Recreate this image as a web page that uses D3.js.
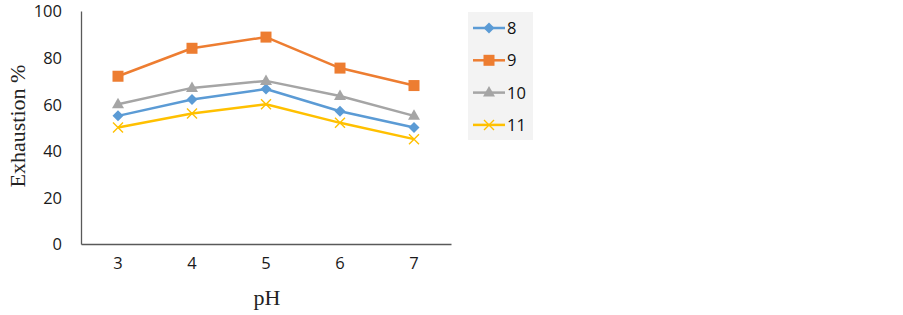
<!DOCTYPE html>
<html lang="en">
<head>
    <meta charset="UTF-8">
    <title>Exhaustion vs pH</title>
    <script src="https://d3js.org/d3.v7.min.js"></script>
    <style>
        body { margin: 0; background: #fff; }
        svg { display: block; }
    </style>
</head>
<body>
<div id="chart"></div>
<script>
    // data
    const phValues = ["3", "4", "5", "6", "7"];
    const seriesNames = ["8", "9", "10", "11"];
    const s8 = [55, 62, 66.5, 57, 50];
    const s9 = [72, 84, 88.8, 75.5, 68];
    const s10 = [60, 67, 70, 63.5, 55];
    const s11 = [50, 56, 60, 52, 45];
    const yTicks = [0, 20, 40, 60, 80, 100];

    const allSeries = [s8, s9, s10, s11];
    const colors = ["#5B9BD5", "#ED7D31", "#A5A5A5", "#FFC000"];
    const markers = ["diamond", "square", "triangle", "cross"];
    const sansFont = "'Open Sans', 'Liberation Sans', sans-serif";
    const serifFont = "'Liberation Serif', 'DejaVu Serif', serif";

    const W = 903, H = 315;
    const svg = d3.select("#chart").append("svg")
        .attr("width", W)
        .attr("height", H);

    const x = d3.scaleBand().domain(phValues).range([81, 451]);
    const y = d3.scaleLinear().domain([0, 100]).range([244, 11]);

    // y axis
    const gy = svg.append("g")
        .attr("transform", "translate(81,0)")
        .call(d3.axisLeft(y).tickValues(yTicks).tickSize(0).tickPadding(19));
    gy.select(".domain").attr("stroke", "#595959").attr("stroke-width", 1.3);
    gy.selectAll(".tick text")
        .attr("dy", "0.36em")
        .style("font-family", sansFont).style("font-size", "16.5px").attr("fill", "#1a1a1a");

    // x axis
    const gx = svg.append("g")
        .attr("transform", "translate(0,244)")
        .call(d3.axisBottom(x).tickSize(0).tickPadding(13));
    gx.select(".domain").attr("stroke", "#595959").attr("stroke-width", 1.3);
    gx.selectAll(".tick text")
        .style("font-family", sansFont).style("font-size", "16.5px").attr("fill", "#1a1a1a");

    // axis titles
    svg.append("text")
        .attr("transform", "translate(25,126) rotate(-90)")
        .attr("text-anchor", "middle")
        .style("font-family", serifFont)
        .style("font-size", "22px")
        .attr("fill", "#222")
        .text("Exhaustion %");
    svg.append("text")
        .attr("x", 267).attr("y", 305)
        .attr("text-anchor", "middle")
        .style("font-family", serifFont)
        .style("font-size", "22px")
        .attr("fill", "#222")
        .text("pH");

    const cx = d => x(d) + x.bandwidth() / 2;
    const line = d3.line().x((v, i) => cx(phValues[i])).y(v => y(v));

    function drawMarker(g, type, px, py, color) {
        if (type === "diamond") {
            g.append("path").attr("d", `M${px},${py - 5.5}L${px + 5.5},${py}L${px},${py + 5.5}L${px - 5.5},${py}Z`)
                .attr("fill", color);
        } else if (type === "square") {
            g.append("rect").attr("x", px - 5.5).attr("y", py - 5.5).attr("width", 11).attr("height", 11)
                .attr("fill", color);
        } else if (type === "triangle") {
            g.append("path").attr("d", `M${px},${py - 6.5}L${px + 6},${py + 4}L${px - 6},${py + 4}Z`)
                .attr("fill", color);
        } else {
            g.append("path").attr("d", `M${px - 5},${py - 5}L${px + 5},${py + 5}M${px + 5},${py - 5}L${px - 5},${py + 5}`)
                .attr("stroke", color).attr("stroke-width", 1.4);
        }
    }

    allSeries.forEach((vals, k) => {
        const g = svg.append("g");
        g.append("path")
            .attr("d", line(vals))
            .attr("fill", "none")
            .attr("stroke", colors[k])
            .attr("stroke-width", 2.5)
            .attr("stroke-linejoin", "round");
        vals.forEach((v, i) => drawMarker(g, markers[k], cx(phValues[i]), y(v), colors[k]));
    });

    // legend
    const lg = svg.append("g");
    lg.append("rect").attr("x", 468).attr("y", 12).attr("width", 65).attr("height", 128)
        .attr("fill", "#f3f3f3");
    seriesNames.forEach((name, k) => {
        const ly = 28 + k * 32.3;
        lg.append("line").attr("x1", 473).attr("x2", 505).attr("y1", ly).attr("y2", ly)
            .attr("stroke", colors[k]).attr("stroke-width", 2.5);
        drawMarker(lg, markers[k], 489, ly, colors[k]);
        lg.append("text").attr("x", 507).attr("y", ly + 6)
            .style("font-family", sansFont)
            .style("font-size", "16.5px")
            .attr("fill", "#111")
            .text(name);
    });
</script>
</body>
</html>
